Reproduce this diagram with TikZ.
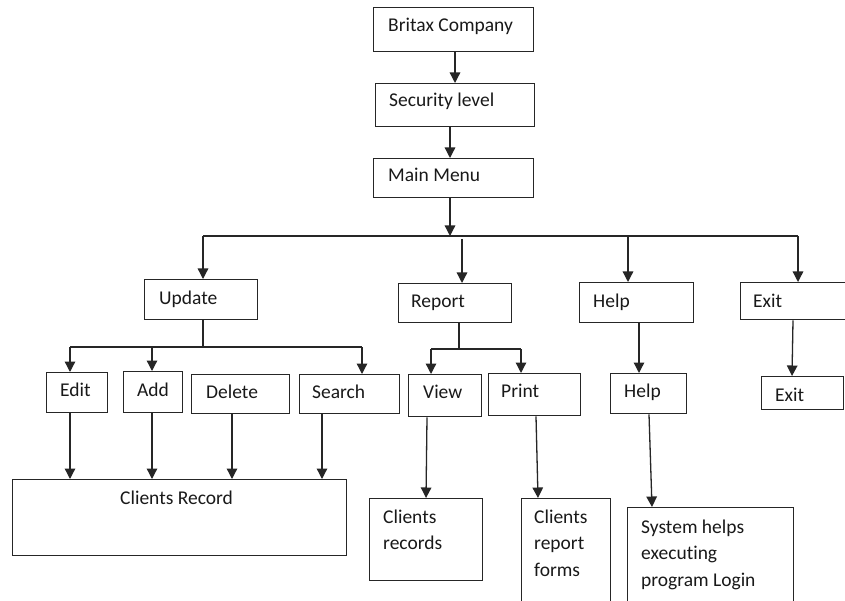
\documentclass[tikz,border=0pt]{standalone}
\usepackage{fontspec}
\setmainfont{Carlito}[Ligatures=NoCommon]
\usetikzlibrary{arrows.meta}
\begin{document}
\begin{tikzpicture}[x=1pt,y=-1pt,
  box/.style={draw=black!85, line width=1.3pt, inner sep=0pt, anchor=north west},
  txt/.style={anchor=base west, inner sep=0pt, font=\fontsize{19.5}{26.5}\selectfont, align=left, text=black!90},
  link/.style={draw=black!85, line width=1.3pt},
  arr/.style={link, -{Triangle[width=10.5pt,length=10.5pt]}}]
\useasboundingbox (0,0) rectangle (845,601);
\clip (0,0) rectangle (845,601);
\fill[white] (0,0) rectangle (845,601);

% top chain
\node[box, minimum width=160pt, minimum height=44pt] (britax) at (373,7) {};
\node[box, minimum width=159pt, minimum height=43pt] (sec) at (375,83) {};
\node[box, minimum width=160pt, minimum height=39pt] (main) at (373,158) {};

% first level menu
\node[box, minimum width=113pt, minimum height=40pt] (update) at (144,279) {};
\node[box, minimum width=113pt, minimum height=39pt] (report) at (398,283) {};
\node[box, minimum width=114pt, minimum height=40pt] (help) at (579,282) {};
\node[box, minimum width=120pt, minimum height=37pt] (exit) at (740,282) {};

% second level
\node[box, minimum width=61pt, minimum height=40pt] (edit) at (46,372) {};
\node[box, minimum width=59pt, minimum height=41pt] (add) at (123,371) {};
\node[box, minimum width=98pt, minimum height=39pt] (delete) at (191,374) {};
\node[box, minimum width=100pt, minimum height=39pt] (search) at (299,374) {};
\node[box, minimum width=73pt, minimum height=42pt] (view) at (408,374) {};
\node[box, minimum width=92pt, minimum height=42pt] (print) at (488,373) {};
\node[box, minimum width=76pt, minimum height=40pt] (help2) at (610,373) {};
\node[box, minimum width=82pt, minimum height=33pt] (exit2) at (761,376) {};

% results
\node[box, minimum width=334pt, minimum height=76pt] (cr) at (12,479) {};
\node[box, minimum width=113pt, minimum height=82pt] (crec) at (369,498) {};
\node[box, minimum width=89pt, minimum height=115pt] (crep) at (521,498) {};
\node[box, minimum width=166pt, minimum height=105pt] (sys) at (627,507) {};

% labels (base anchor sits on the last line of a multi-line label)
\node[txt] (tbritax) at (388,32) {Britax Company};
\node[txt] (tsec) at (389,107) {Security level};
\node[txt] (tmain) at (388,182) {Main Menu};
\node[txt] (tupdate) at (159,305) {Update};
\node[txt] (treport) at (411,308) {Report};
\node[txt] (thelp) at (593,307) {Help};
\node[txt] (texit) at (753,307) {Exit};
\node[txt] (tedit) at (60,396) {Edit};
\node[txt] (tadd) at (137,396) {Add};
\node[txt] (tdelete) at (206,398) {Delete};
\node[txt] (tsearch) at (312,398) {Search};
\node[txt] (tview) at (423,398) {View};
\node[txt] (tprint) at (501,397) {Print};
\node[txt] (thelp2) at (624,397) {Help};
\node[txt] (texit2) at (775,401) {Exit};
\node[txt] (tcr) at (120,504) {Clients Record};
\node[txt] (tcrec) at (383,549.5) {Clients\\records};
\node[txt] (tcrep) at (534,576) {Clients\\report\\forms};
\node[txt] (tsys) at (641,586) {System helps\\executing\\program Login};

% top chain connectors
\draw[arr] (britax.south -| 455,0) -- (sec.north -| 455,0);
\draw[arr] (sec.south -| 450,0) -- (main.north -| 450,0);
\coordinate (bus) at (450,236);
\draw[arr] (main.south -| bus) -- (bus);

% main menu bus
\coordinate (busL) at (203,236);
\coordinate (busR) at (798,236);
\coordinate (busP) at (462,239);
\coordinate (busH) at (628,236);
\draw[link] (busL) -- (busR);
\draw[arr] (busL) -- (update.north -| busL);
\draw[arr] (busP) -- (report.north -| busP);
\draw[arr] (busH) -- (help.north -| busH);
\draw[arr] (busR) -- (exit.north -| busR);

% update bus
\coordinate (ub) at (203,347);
\coordinate (ubL) at (70,347);
\coordinate (ubA) at (152,347);
\coordinate (ubR) at (362,347);
\draw[link] (update.south -| ub) -- (ub);
\draw[link] (ubL) -- (ubR);
\draw[arr] (ubL) -- (edit.north -| ubL);
\draw[arr] (ubA) -- (add.north -| ubA);
\draw[arr] (ubR) -- (search.north -| ubR);

% report bus
\coordinate (rb) at (459,349);
\coordinate (rbL) at (431,349);
\coordinate (rbR) at (521,349);
\draw[link] (report.south -| rb) -- (rb);
\draw[link] (rbL) -- (rbR);
\draw[arr] (rbL) -- (view.north -| rbL);
\draw[arr] (rbR) -- (print.north -| rbR);

% help and exit
\draw[arr] (help.south -| 639,0) -- (help2.north -| 639,0);
\draw[arr] (exit.south -| 793,0) -- (exit2.north -| 792,0);

% down to results
\draw[arr] (edit.south -| 70,0) -- (cr.north -| 70,0);
\draw[arr] (add.south -| 152,0) -- (cr.north -| 152,0);
\draw[arr] (delete.south -| 232,0) -- (cr.north -| 232,0);
\draw[arr] (search.south -| 322,0) -- (cr.north -| 322,0);
\draw[arr] (view.south -| 427,0) -- (crec.north -| 426,0);
\draw[arr] (print.south -| 536,0) -- (crep.north -| 538,0);
\draw[arr] (help2.south -| 649,0) -- (sys.north -| 652,0);
\end{tikzpicture}
\end{document}
